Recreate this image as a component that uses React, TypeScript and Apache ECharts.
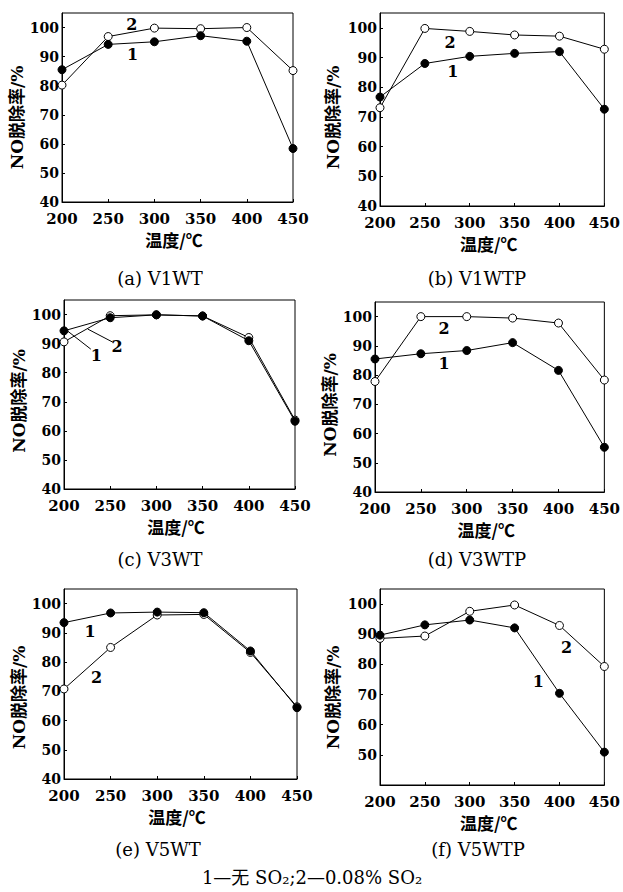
import React, { useEffect, useRef } from "react";
import * as echarts from "echarts";

const temps = [200, 250, 300, 350, 400, 450];
const yTicks = [40, 50, 60, 70, 80, 90, 100];

const aNoSO2 = [85.5, 94.2, 95.1, 97.2, 95.3, 58.4];
const aSO2 = [80.2, 96.9, 99.8, 99.6, 100, 85.2];
const bNoSO2 = [76.7, 88.0, 90.4, 91.4, 92.0, 72.6];
const bSO2 = [73.1, 99.8, 98.8, 97.6, 97.2, 92.8];
const cNoSO2 = [94.4, 98.9, 99.9, 99.5, 91.0, 63.3];
const cSO2 = [90.6, 99.6, 99.9, 99.5, 92.1, 63.7];
const dNoSO2 = [85.5, 87.3, 88.4, 91.1, 81.6, 55.3];
const dSO2 = [77.8, 100, 100, 99.5, 97.8, 78.3];
const eNoSO2 = [93.5, 96.8, 97.1, 96.9, 83.8, 64.4];
const eSO2 = [70.8, 85.0, 96.1, 96.3, 83.3, 64.7];
const fNoSO2 = [89.7, 93.1, 94.7, 92.1, 70.4, 50.9];
const fSO2 = [88.6, 89.4, 97.6, 99.7, 92.9, 79.3];

const captions = ["(a) V1WT", "(b) V1WTP", "(c) V3WT", "(d) V3WTP", "(e) V5WT", "(f) V5WTP"];
const legendText = "1—无 SO₂;2—0.08% SO₂";
const xName = "温度/℃";
const yName = "NO脱除率/%";

// curve labels in data coordinates [temperature, value, text]
const aLabels: [number, number, string][] = [[275.5, 101.1, "2"], [276.5, 90.7, "1"]];
const bLabels: [number, number, string][] = [[278, 95.2, "2"], [281, 85.3, "1"]];
const cLabels: [number, number, string][] = [[235, 86.0, "1"], [257.5, 88.9, "2"]];
const dLabels: [number, number, string][] = [[275.3, 96.0, "2"], [275.3, 83.8, "1"]];
const eLabels: [number, number, string][] = [[228, 90.6, "1"], [235, 74.6, "2"]];
const fLabels: [number, number, string][] = [[408, 85.6, "2"], [376.5, 74.4, "1"]];
// leader lines for panel (c)
const cLeader1: [number, number][] = [[204, 94.3], [229, 88.1]];
const cLeader2: [number, number][] = [[225.7, 95.0], [252.8, 90.5]];

const SERIF = "'DejaVu Serif', 'Liberation Serif', 'Noto Sans CJK SC', serif";
const CJK = "'Noto Sans CJK SC', 'DejaVu Serif', serif";

const panels = [
  { s1: aNoSO2, s2: aSO2, labels: aLabels, leaders: [], grid: { left: 62, top: 13, width: 231, height: 189 }, gapY: 34, padY: 20, showMin: true, cap: [160, 278] },
  { s1: bNoSO2, s2: bSO2, labels: bLabels, leaders: [], grid: { left: 380, top: 13, width: 227, height: 193 }, gapY: 39, padY: 16, showMin: true, cap: [477, 278] },
  { s1: cNoSO2, s2: cSO2, labels: cLabels, leaders: [cLeader1, cLeader2], grid: { left: 64, top: 300, width: 231, height: 189 }, gapY: 36, padY: 13, showMin: true, cap: [160, 559] },
  { s1: dNoSO2, s2: dSO2, labels: dLabels, leaders: [], grid: { left: 375, top: 302, width: 232, height: 190 }, gapY: 35, padY: 16, showMin: true, cap: [477, 559] },
  { s1: eNoSO2, s2: eSO2, labels: eLabels, leaders: [], grid: { left: 64, top: 589, width: 233, height: 190 }, gapY: 36, padY: 27, showMin: true, cap: [158, 849] },
  { s1: fNoSO2, s2: fSO2, labels: fLabels, leaders: [], grid: { left: 380, top: 589, width: 227, height: 196 }, gapY: 39, padY: 21, showMin: false, cap: [478, 849] },
];

function buildOption() {
  const grid: any[] = [];
  const xAxis: any[] = [];
  const yAxis: any[] = [];
  const series: any[] = [];
  const graphic: any[] = [];

  panels.forEach((p, i) => {
    grid.push({ ...p.grid, show: true, borderColor: "#000", borderWidth: 1, backgroundColor: "transparent" });
    xAxis.push({
      type: "value",
      gridIndex: i,
      min: temps[0],
      max: temps[temps.length - 1],
      interval: 50,
      name: xName,
      nameLocation: "middle",
      nameGap: 29,
      nameTextStyle: { fontFamily: CJK, fontWeight: "bold", fontSize: 17, color: "#000", padding: [0, 7, 0, 0] },
      axisLine: { show: true, lineStyle: { color: "#000", width: 1 } },
      axisTick: { show: true, inside: true, length: 3, lineStyle: { color: "#000" } },
      axisLabel: { fontFamily: SERIF, fontWeight: "bold", fontSize: 15, lineHeight: 15, color: "#000", margin: 9 },
      splitLine: { show: false },
    });
    yAxis.push({
      type: "value",
      gridIndex: i,
      min: yTicks[0],
      max: 105,
      interval: 10,
      name: yName,
      nameLocation: "middle",
      nameGap: p.gapY,
      nameTextStyle: { fontFamily: SERIF, fontWeight: "bold", fontSize: 17, color: "#000", padding: [0, p.padY, 0, 0] },
      axisLine: { show: true, lineStyle: { color: "#000", width: 1 } },
      axisTick: { show: true, inside: true, length: 3, lineStyle: { color: "#000" } },
      axisLabel: {
        fontFamily: SERIF,
        fontWeight: "bold",
        fontSize: 14,
        lineHeight: 14,
        color: "#000",
        margin: 3,
        showMaxLabel: false,
        showMinLabel: p.showMin,
        formatter: (v: number) => (yTicks.indexOf(v) >= 0 ? String(v) : ""),
      },
      splitLine: { show: false },
    });

    series.push({
      type: "line",
      xAxisIndex: i,
      yAxisIndex: i,
      data: temps.map((t, k) => [t, p.s2[k]]),
      symbol: "circle",
      symbolSize: 8,
      lineStyle: { color: "#000", width: 1 },
      itemStyle: { color: "#fff", borderColor: "#000", borderWidth: 1 },
      z: 3,
    });
    series.push({
      type: "line",
      xAxisIndex: i,
      yAxisIndex: i,
      data: temps.map((t, k) => [t, p.s1[k]]),
      symbol: "circle",
      symbolSize: 8,
      lineStyle: { color: "#000", width: 1 },
      itemStyle: { color: "#000", borderColor: "#000", borderWidth: 1 },
      z: 4,
    });
    p.leaders.forEach((ld) => {
      series.push({
        type: "line",
        xAxisIndex: i,
        yAxisIndex: i,
        data: ld,
        symbol: "none",
        lineStyle: { color: "#000", width: 1 },
        z: 2,
      });
    });
    series.push({
      type: "scatter",
      xAxisIndex: i,
      yAxisIndex: i,
      data: p.labels,
      symbolSize: 1,
      itemStyle: { color: "rgba(255,255,255,0)", opacity: 1 },
      label: {
        show: true,
        position: "inside",
        formatter: (d: any) => d.value[2],
        fontFamily: SERIF,
        fontWeight: "bold",
        fontSize: 16,
        color: "#000",
        opacity: 1,
        textBorderWidth: 0,
        textBorderColor: "transparent",
      },
      z: 5,
    });

    graphic.push({
      type: "text",
      x: p.cap[0],
      y: p.cap[1],
      style: {
        text: captions[i],
        fontFamily: SERIF,
        fontSize: 18,
        fill: "#000",
        textAlign: "center",
        textVerticalAlign: "middle",
      },
    });
  });

  graphic.push({
    type: "text",
    x: 312,
    y: 877,
    style: {
      text: legendText,
      fontFamily: SERIF,
      fontSize: 18,
      fill: "#000",
      textAlign: "center",
      textVerticalAlign: "middle",
    },
  });

  return {
    animation: false,
    backgroundColor: "#fff",
    grid,
    xAxis,
    yAxis,
    series,
    graphic,
  };
}

export default function App() {
  const ref = useRef<HTMLDivElement>(null);
  useEffect(() => {
    if (!ref.current) return;
    const chart = echarts.init(ref.current, null, { renderer: "svg" });
    chart.setOption(buildOption() as any);
    return () => chart.dispose();
  }, []);
  return (
    <div
      ref={ref}
      style={{ position: "absolute", left: 0, top: 0, width: 623, height: 892, background: "#fff" }}
    />
  );
}
